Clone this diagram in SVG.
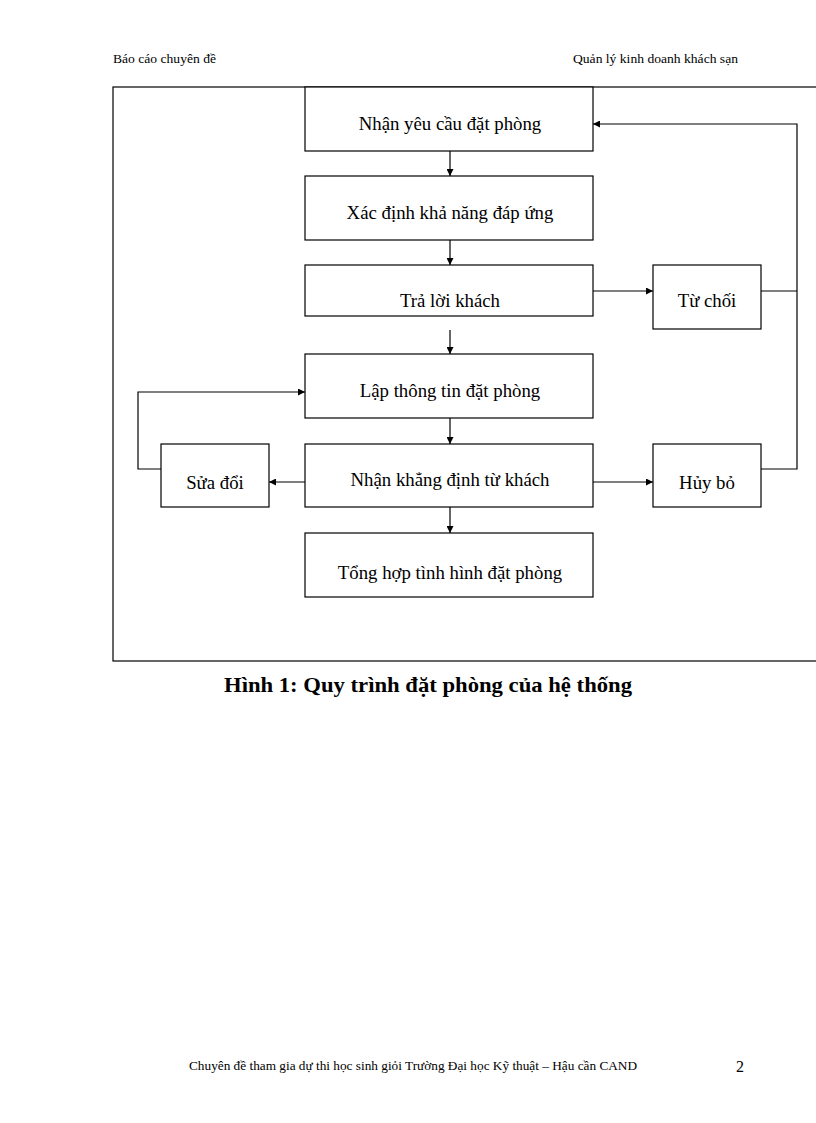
<svg xmlns="http://www.w3.org/2000/svg" width="816" height="1123" viewBox="0 0 816 1123">
<style>
.box{fill:#fff;stroke:#000;stroke-width:1.2}
.lbl{font-family:"Liberation Serif","Times New Roman",serif;font-size:18.8px;text-anchor:middle;fill:#000}
.hdr{font-family:"Liberation Serif","Times New Roman",serif;font-size:13px;fill:#000}
.cn{fill:none;stroke:#000;stroke-width:1.2}
</style>
<defs>
<marker id="ah" viewBox="0 0 10 10" refX="10" refY="5" markerWidth="7" markerHeight="7" markerUnits="userSpaceOnUse" orient="auto"><path d="M0,0 L10,5 L0,10 z" fill="#000"/></marker>
</defs>
<rect width="816" height="1123" fill="#fff"/>
<text class="hdr" x="113" y="63" textLength="103" lengthAdjust="spacingAndGlyphs">Báo cáo chuyên đề</text>
<text class="hdr" x="573" y="63" textLength="165" lengthAdjust="spacingAndGlyphs">Quản lý kinh doanh khách sạn</text>
<rect x="113" y="87" width="720" height="574" fill="none" stroke="#000" stroke-width="1.2"/>
<g id="connectors">
<line class="cn" x1="450" y1="151" x2="450" y2="176" marker-end="url(#ah)"/>
<line class="cn" x1="450" y1="240" x2="450" y2="265" marker-end="url(#ah)"/>
<line class="cn" x1="450" y1="330" x2="450" y2="354" marker-end="url(#ah)"/>
<line class="cn" x1="450" y1="418" x2="450" y2="444" marker-end="url(#ah)"/>
<line class="cn" x1="450" y1="507" x2="450" y2="533" marker-end="url(#ah)"/>
<line class="cn" x1="593" y1="291" x2="653" y2="291" marker-end="url(#ah)"/>
<line class="cn" x1="593" y1="482" x2="653" y2="482" marker-end="url(#ah)"/>
<line class="cn" x1="305" y1="482" x2="269" y2="482" marker-end="url(#ah)"/>
<polyline class="cn" points="761,291 797,291"/>
<polyline class="cn" points="761,469 797,469 797,124 593,124" marker-end="url(#ah)"/>
<polyline class="cn" points="161,469 138,469 138,392 305,392" marker-end="url(#ah)"/>
</g>
<g id="n1"><rect class="box" x="305" y="87" width="288" height="64"/><text class="lbl" x="450" y="130">Nhận yêu cầu đặt phòng</text></g>
<g id="n2"><rect class="box" x="305" y="176" width="288" height="64"/><text class="lbl" x="450" y="219">Xác định khả năng đáp ứng</text></g>
<g id="n3"><rect class="box" x="305" y="265" width="288" height="51"/><text class="lbl" x="450" y="307">Trả lời  khách</text></g>
<g id="n4"><rect class="box" x="653" y="265" width="108" height="64"/><text class="lbl" x="707" y="307">Từ chối</text></g>
<g id="n5"><rect class="box" x="305" y="354" width="288" height="64"/><text class="lbl" x="450" y="397">Lập thông tin  đặt phòng</text></g>
<g id="n6"><rect class="box" x="305" y="444" width="288" height="63"/><text class="lbl" x="450" y="486">Nhận khẳng định từ khách</text></g>
<g id="n7"><rect class="box" x="161" y="444" width="108" height="63"/><text class="lbl" x="215" y="489">Sửa đổi</text></g>
<g id="n8"><rect class="box" x="653" y="444" width="108" height="63"/><text class="lbl" x="707" y="489">Hủy bỏ</text></g>
<g id="n9"><rect class="box" x="305" y="533" width="288" height="64"/><text class="lbl" x="450" y="579">Tổng hợp tình hình đặt phòng</text></g>
<text x="224" y="692" font-family="Liberation Serif,'Times New Roman',serif" font-size="22" font-weight="bold" textLength="408" lengthAdjust="spacingAndGlyphs">Hình 1: Quy trình đặt phòng của hệ thống</text>
<text class="hdr" x="189" y="1070" textLength="448" lengthAdjust="spacingAndGlyphs">Chuyên đề tham gia dự thi học sinh giỏi Trường Đại học Kỹ thuật – Hậu cần CAND</text>
<text x="736" y="1072" font-family="Liberation Serif,'Times New Roman',serif" font-size="16">2</text>
</svg>
